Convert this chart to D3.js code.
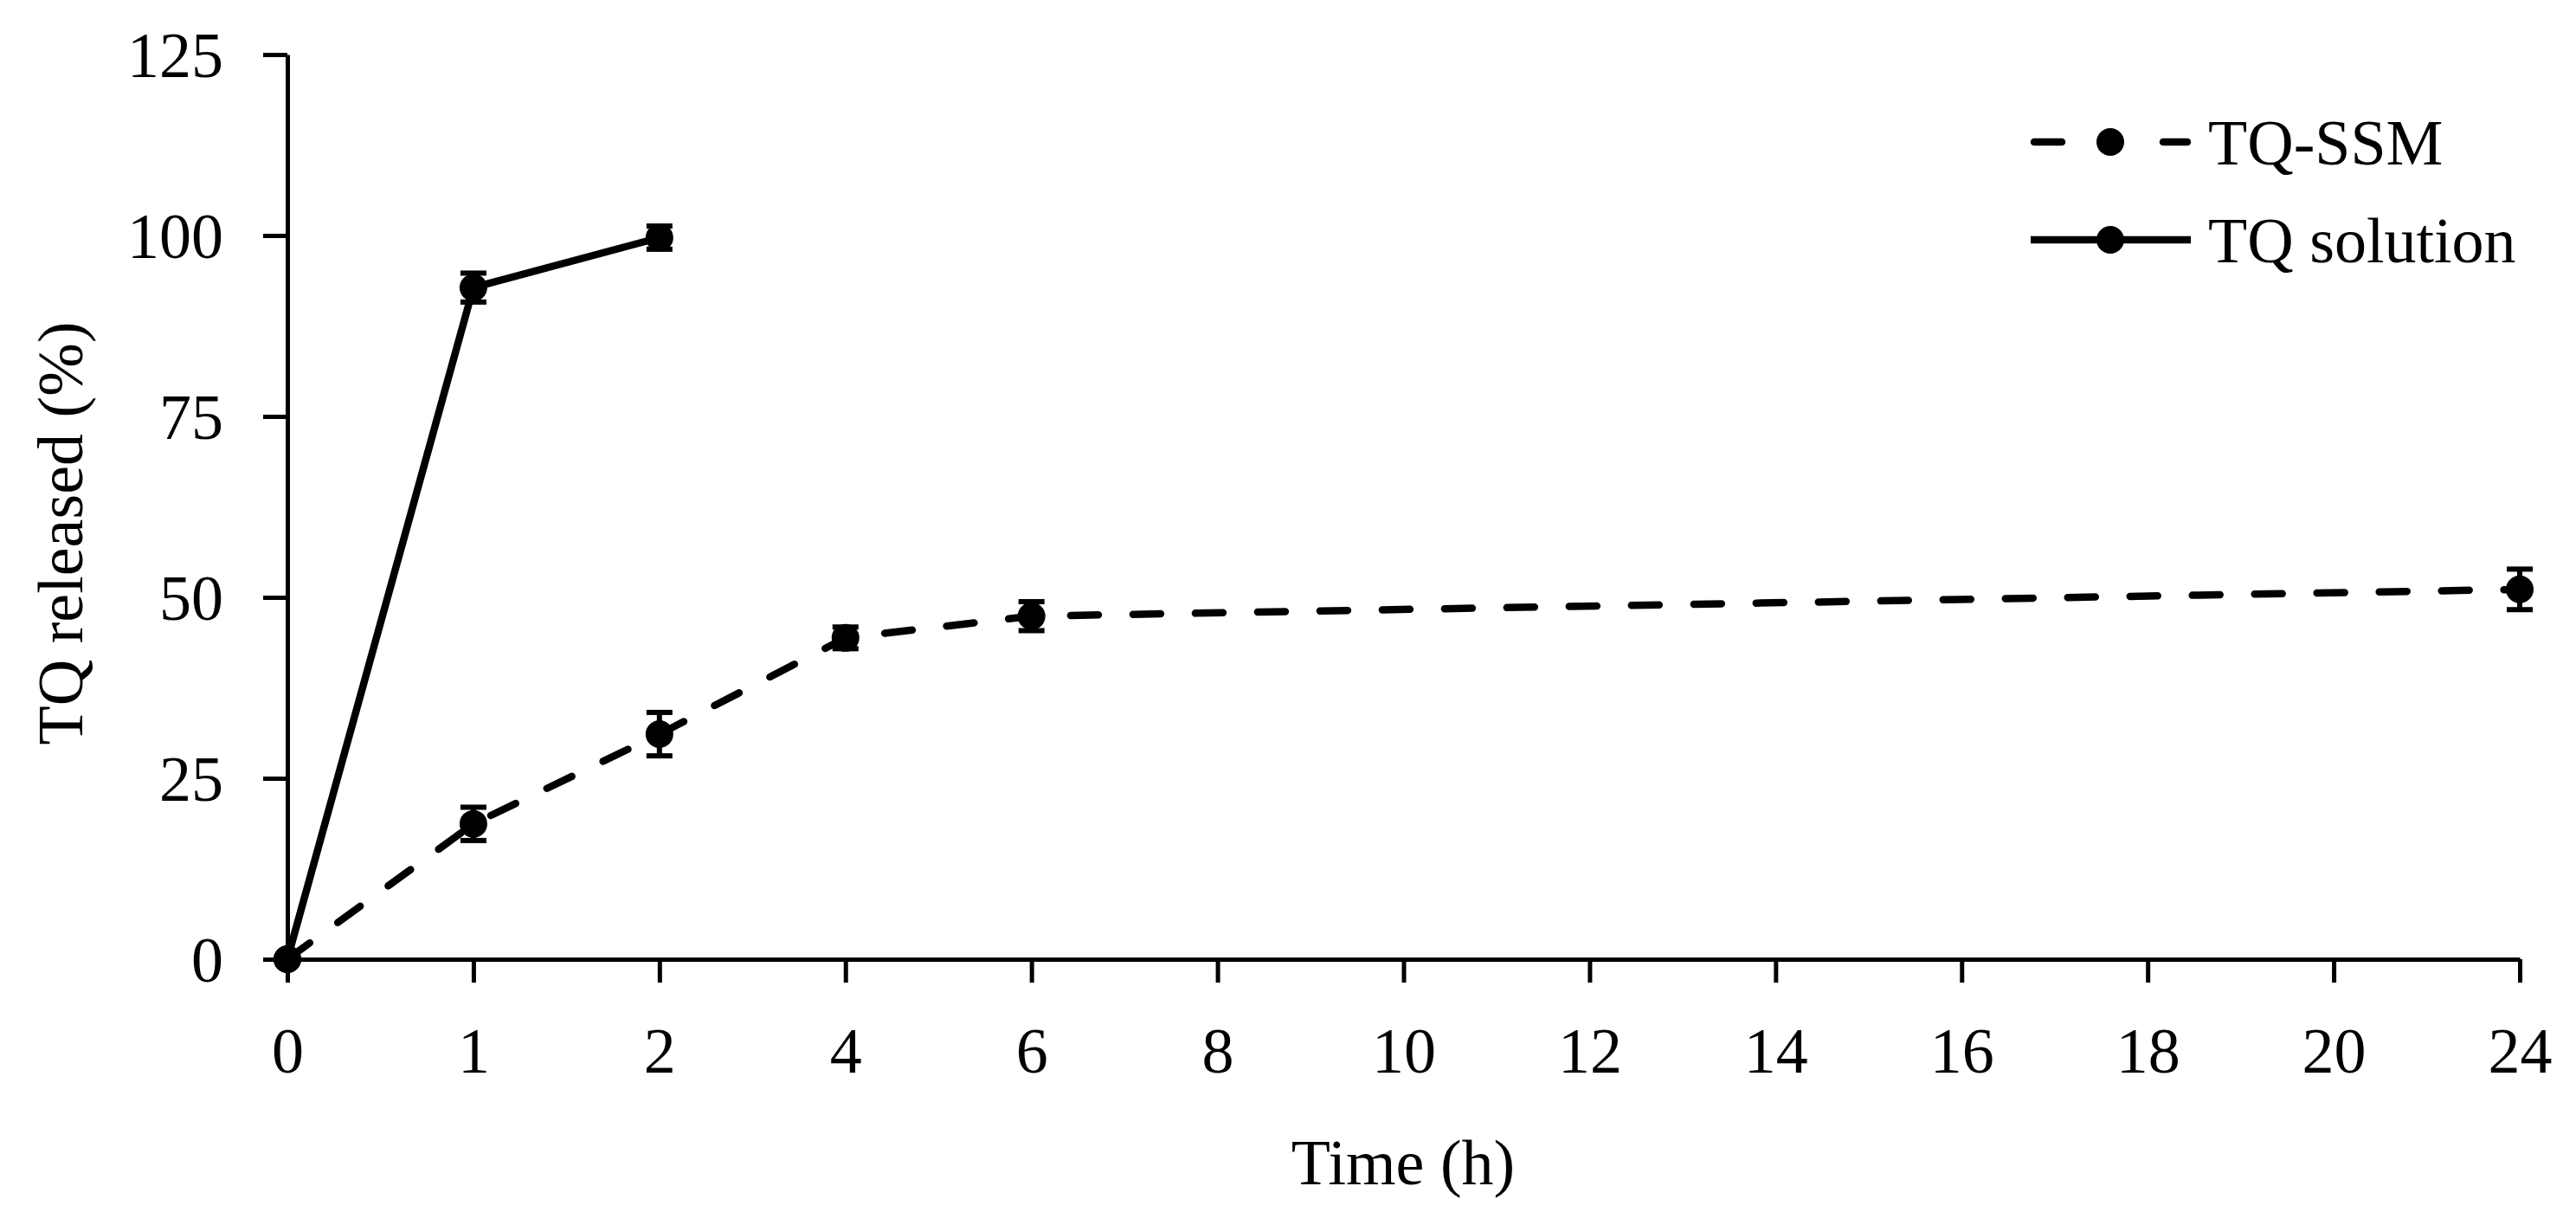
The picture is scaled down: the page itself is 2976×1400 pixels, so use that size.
<!DOCTYPE html>
<html>
<head>
<meta charset="utf-8">
<script src="https://cdn.jsdelivr.net/npm/d3@7"></script>
<style>
  body { margin: 0; background: #fff; }
  svg text { font-family: "Liberation Serif", "Times New Roman", serif; fill: #000; }
</style>
</head>
<body>
<svg width="2976" height="1400"></svg>
<script>
// time points (h) shown as evenly spaced categories
var timeLabels = ['0', '1', '2', '4', '6', '8', '10', '12', '14', '16', '18', '20', '24'];
var yTicks = [0, 25, 50, 75, 100, 125];

// TQ-SSM
var ssmTimes = ['0', '1', '2', '4', '6', '24'];
var ssmValues = [0, 18.7, 31.1, 44.4, 47.4, 51.1];
var ssmErrors = [0, 2.3, 3.0, 1.5, 2.0, 2.8];

// TQ solution
var solTimes = ['0', '1', '2'];
var solValues = [0, 92.8, 99.7];
var solErrors = [0, 2.0, 1.6];

var fontSize = 74;
var svg = d3.select('svg');

var x = d3.scalePoint().domain(timeLabels).range([332, 2911]);
var y = d3.scaleLinear().domain([0, 125]).range([1108, 63]);

function makeSeries(times, values, errors) {
    return times.map(function(t, i) {
        return { t: t, v: values[i], e: errors[i] };
    });
}

var series = [
    { name: 'TQ-SSM', dash: '32,40', data: makeSeries(ssmTimes, ssmValues, ssmErrors) },
    { name: 'TQ solution', dash: null, data: makeSeries(solTimes, solValues, solErrors) }
];

// axes
var xAxis = svg.append('g')
    .attr('transform', 'translate(0,' + y(0) + ')')
    .call(d3.axisBottom(x).tickSize(27).tickSizeOuter(0));

var yAxis = svg.append('g')
    .attr('transform', 'translate(' + x('0') + ',0)')
    .call(d3.axisLeft(y).tickValues(yTicks).tickSize(28).tickSizeOuter(0).tickPadding(46));

[xAxis, yAxis].forEach(function(g) {
    g.select('.domain').attr('stroke', '#000').attr('stroke-width', 5);
    g.selectAll('.tick line').attr('stroke', '#000').attr('stroke-width', 5);
    g.selectAll('.tick text')
        .style('font-size', fontSize + 'px')
        .attr('fill', '#000');
});

xAxis.selectAll('.tick text').attr('y', 131).attr('dy', 0);
yAxis.selectAll('.tick text').attr('dy', '0.35em');

// lines
var line = d3.line()
    .x(function(d) { return x(d.t); })
    .y(function(d) { return y(d.v); });

var groups = svg.selectAll('g.series')
    .data(series)
    .join('g')
    .attr('class', 'series');

groups.append('path')
    .attr('d', function(d) { return line(d.data); })
    .attr('fill', 'none')
    .attr('stroke', '#000')
    .attr('stroke-width', 8.5)
    .attr('stroke-linecap', function(d) { return d.dash ? 'round' : 'butt'; })
    .attr('stroke-linejoin', 'round')
    .attr('stroke-dasharray', function(d) { return d.dash; });

// error bars
var bars = groups.selectAll('g.err')
    .data(function(d) { return d.data.filter(function(p) { return p.e > 0; }); })
    .join('g')
    .attr('class', 'err')
    .attr('stroke', '#000')
    .attr('stroke-width', 6);

bars.append('line')
    .attr('x1', function(d) { return x(d.t); })
    .attr('x2', function(d) { return x(d.t); })
    .attr('y1', function(d) { return y(d.v + d.e); })
    .attr('y2', function(d) { return y(d.v - d.e); });

bars.selectAll('line.cap')
    .data(function(d) { return [d.v + d.e, d.v - d.e].map(function(v) { return { t: d.t, v: v }; }); })
    .join('line')
    .attr('class', 'cap')
    .attr('x1', function(d) { return x(d.t) - 15; })
    .attr('x2', function(d) { return x(d.t) + 15; })
    .attr('y1', function(d) { return y(d.v); })
    .attr('y2', function(d) { return y(d.v); });

// markers
groups.selectAll('circle')
    .data(function(d) { return d.data; })
    .join('circle')
    .attr('cx', function(d) { return x(d.t); })
    .attr('cy', function(d) { return y(d.v); })
    .attr('r', 16)
    .attr('fill', '#000');

// axis titles
svg.append('text')
    .attr('x', 1621)
    .attr('y', 1368)
    .attr('text-anchor', 'middle')
    .style('font-size', fontSize + 'px')
    .text('Time (h)');

svg.append('text')
    .attr('transform', 'translate(95,616) rotate(-90)')
    .attr('text-anchor', 'middle')
    .style('font-size', fontSize + 'px')
    .text('TQ released (%)');

// legend
var legend = svg.append('g')
    .selectAll('g')
    .data(series)
    .join('g')
    .attr('transform', function(d, i) { return 'translate(2346,' + (164 + i * 113) + ')'; });

legend.append('line')
    .attr('x1', function(d) { return d.dash ? 4 : 0; })
    .attr('x2', function(d) { return d.dash ? 181 : 185; })
    .attr('stroke', '#000')
    .attr('stroke-width', 8.5)
    .attr('stroke-linecap', function(d) { return d.dash ? 'round' : 'butt'; })
    .attr('stroke-dasharray', function(d) { return d.dash ? '32,60,0,57,32' : null; });

legend.append('circle')
    .attr('cx', 92)
    .attr('r', 16)
    .attr('fill', '#000');

legend.append('text')
    .attr('x', 205)
    .attr('y', 26)
    .style('font-size', fontSize + 'px')
    .text(function(d) { return d.name; });
</script>
</body>
</html>
